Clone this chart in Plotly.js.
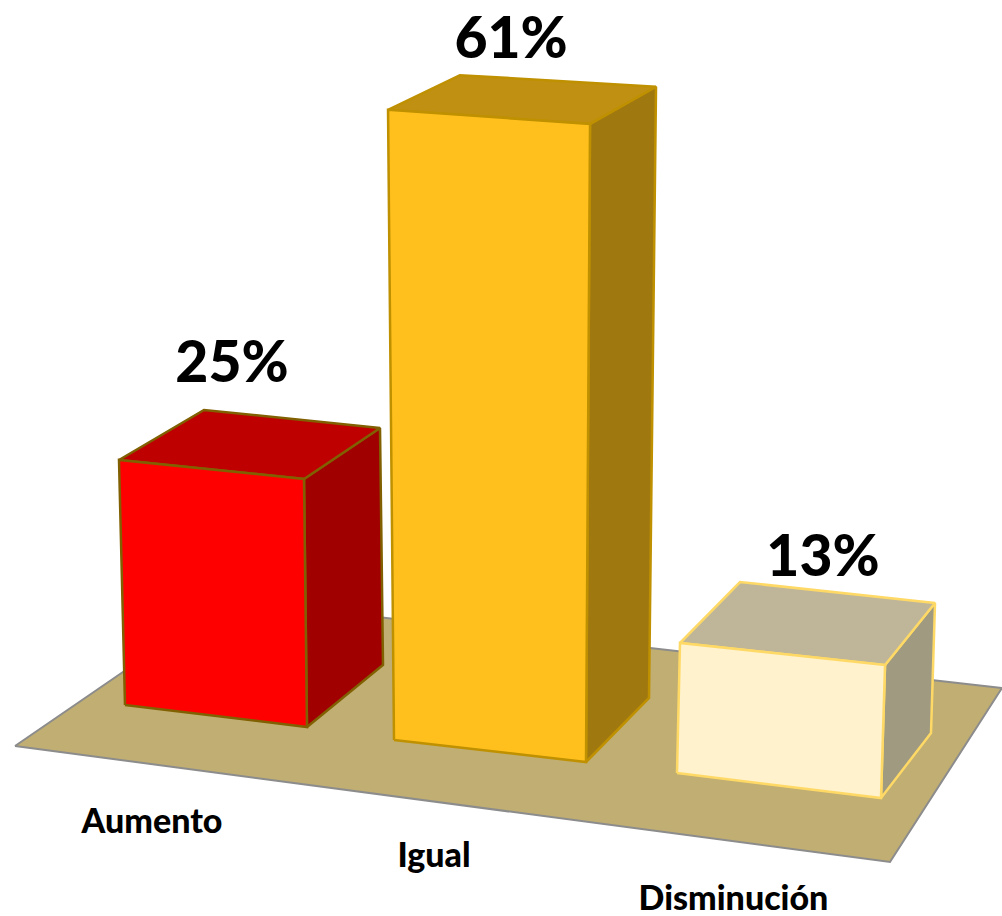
<!DOCTYPE html>
<html>
<head>
<meta charset="utf-8">
<script src="https://cdn.plot.ly/plotly-3.0.1.min.js"></script>
<style>html,body{margin:0;padding:0;background:#fff;overflow:hidden}#chart{width:1002px;height:916px}</style>
</head>
<body>
<div id="chart"></div>
<script>
// Data
const categories = ['Aumento', 'Igual', 'Disminución'];
const values = [25, 61, 13];

// Styles
const faceFront = ['#FF0000', '#FFC01E', '#FFF2CC'];
const faceSide = ['#A00000', '#A07810', '#A09A80'];
const faceTop = ['#BF0000', '#C09012', '#BFB699'];
const edgeColor = ['#806000', '#BF9000', '#FFD966'];
const edgeWidth = [2.5, 2.5, 2.5];

// Projection geometry: footprint of each bar on the floor, [fl, fr, br, bl]
const footprint = [
  [[125, 705], [307, 727], [383, 665], [209, 647]],
  [[394, 740], [586, 762], [649, 698], [455, 676]],
  [[677, 773], [881, 798], [931, 733], [737, 712]]
];
// Screen shift per percentage point at each corner (perspective), [dx, dy]
const risePerPoint = [
  [[-0.24, 9.8], [-0.12, 9.92], [-0.12, 9.48], [-0.2, 9.48]],
  [[-0.098, 10.33], [0.066, 10.46], [0.115, 10.02], [0.08, 9.85]],
  [[0.23, 10], [0.31, 10.23], [0.31, 10], [0.23, 10]]
];
const floorOutline = [[15, 746], [228, 600], [1002, 688], [890, 862]];
const valueLabelGap = [92, 66, 81];
const valueLabelShift = [113, 123, 143];
const categoryLabelPos = [[152, 824], [434, 858], [733.5, 901]];
const textFamily = 'Lato, "Open Sans", sans-serif';

function poly(points, fill, line, width) {
  const closed = points.concat([points[0]]);
  return {
    type: 'scatter', mode: 'lines', fill: 'toself', fillcolor: fill,
    x: closed.map(p => p[0]), y: closed.map(p => p[1]),
    line: {color: line, width: width, shape: 'linear'},
    hoverinfo: 'skip', showlegend: false
  };
}

const traces = [poly(floorOutline, '#C0AE72', '#8C8C8C', 2)];

values.forEach((v, i) => {
  const base = footprint[i];
  const top = base.map((p, k) => [p[0] + risePerPoint[i][k][0] * v, p[1] - risePerPoint[i][k][1] * v]);
  traces.push(poly([base[1], base[2], top[2], top[1]], faceSide[i], edgeColor[i], edgeWidth[i]));
  traces.push(poly([top[0], top[1], top[2], top[3]], faceTop[i], edgeColor[i], edgeWidth[i]));
  traces.push(poly([base[0], base[1], top[1], top[0]], faceFront[i], edgeColor[i], edgeWidth[i]));
  traces.push({
    type: 'scatter', mode: 'text',
    x: [top[0][0] + valueLabelShift[i]],
    y: [top[0][1] - valueLabelGap[i]],
    text: [v + '%'],
    textposition: 'middle center',
    textfont: {family: textFamily, size: 57, color: '#000000', weight: 900},
    hoverinfo: 'skip', showlegend: false, cliponaxis: false
  });
});

traces.push({
  type: 'scatter', mode: 'text',
  x: categoryLabelPos.map(p => p[0]),
  y: categoryLabelPos.map(p => p[1]),
  text: categories,
  textposition: 'middle center',
  textfont: {family: textFamily, size: 34, color: '#000000', weight: 900},
  hoverinfo: 'skip', showlegend: false, cliponaxis: false
});

const layout = {
  width: 1002, height: 916,
  margin: {l: 0, r: 0, t: 0, b: 0},
  paper_bgcolor: '#FFFFFF', plot_bgcolor: '#FFFFFF',
  xaxis: {range: [0, 1002], visible: false, fixedrange: true},
  yaxis: {range: [916, 0], visible: false, fixedrange: true},
  showlegend: false
};

Plotly.newPlot('chart', traces, layout, {displayModeBar: false, staticPlot: true});
</script>
</body>
</html>
